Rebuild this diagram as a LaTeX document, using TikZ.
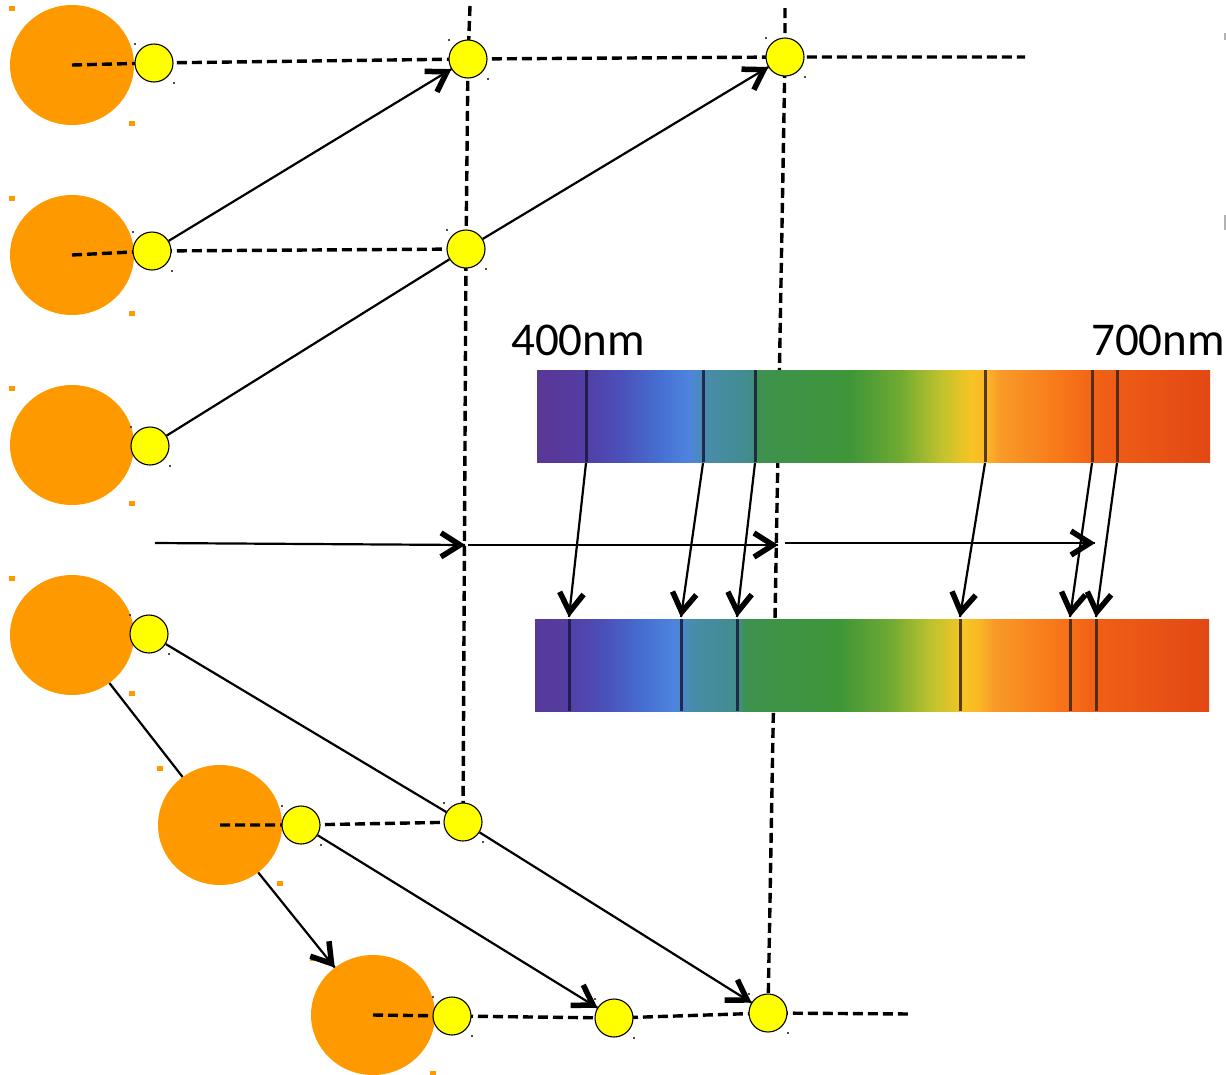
\documentclass[tikz,border=0pt]{standalone}
\usepackage{fontspec}
\setmainfont{Carlito}
\usetikzlibrary{shapes.geometric,decorations.markings}

\definecolor{orng}{RGB}{255,153,0}
\definecolor{ylw}{RGB}{255,255,0}
% spectrum stops, violet to red
\definecolor{sA}{RGB}{90,55,150}
\definecolor{sB}{RGB}{84,60,162}
\definecolor{sC}{RGB}{75,80,185}
\definecolor{sD}{RGB}{70,110,210}
\definecolor{sE}{RGB}{78,132,222}
\definecolor{sF}{RGB}{72,140,172}
\definecolor{sG}{RGB}{66,140,140}
\definecolor{sH}{RGB}{62,146,78}
\definecolor{sI}{RGB}{62,150,56}
\definecolor{sJ}{RGB}{112,170,50}
\definecolor{sK}{RGB}{192,195,45}
\definecolor{sL}{RGB}{246,196,36}
\definecolor{sM}{RGB}{250,184,36}
\definecolor{sN}{RGB}{248,155,40}
\definecolor{sO}{RGB}{248,120,26}
\definecolor{sP}{RGB}{240,95,22}
\definecolor{sQ}{RGB}{226,72,20}
\definecolor{lineblue}{RGB}{25,25,60}
\definecolor{linered}{RGB}{60,35,25}

% stops at 25bp + 50bp * fraction of the bar
\pgfdeclarehorizontalshading{spectrum}{100bp}{%
  color(0bp)=(sA); color(25bp)=(sA); color(28.2bp)=(sB); color(31.2bp)=(sC);
  color(34bp)=(sD); color(36.3bp)=(sE); color(37.5bp)=(sF); color(40.8bp)=(sG);
  color(41.5bp)=(sH); color(48.2bp)=(sI); color(52bp)=(sJ); color(55bp)=(sK);
  color(57.2bp)=(sL); color(58.3bp)=(sM); color(59.4bp)=(sN); color(63.8bp)=(sO);
  color(66.8bp)=(sP); color(75bp)=(sQ); color(100bp)=(sQ)}

\pgfdeclarelayer{bg}
\pgfdeclarelayer{mid}
\pgfsetlayers{bg,mid,main}

\begin{document}
\begin{tikzpicture}[x=1pt,y=-1pt,
  sun/.style={ellipse, fill=orng, minimum width=124pt, minimum height=120pt, inner sep=0pt},
  ball/.style={circle, draw=black, line width=1.1pt, fill=ylw, minimum size=38pt, inner sep=0pt},
  dsh/.style={dash pattern=on 10pt off 5pt, line width=3.4pt},
  link/.style={line width=2.2pt},
  % open V head drawn at the end of the path
  arr/.style={link, postaction={decorate, decoration={markings,
      mark=at position 1 with {\draw[line width=5.5pt, solid, miter limit=5]
        (-24pt,12pt) -- (-5pt,0pt) -- (-24pt,-12pt);}}}},
  specline/.style={line width=3pt, opacity=0.85},
  handle/.style={fill=orng},
  dot/.style={fill=black!70},
  lbl/.style={anchor=base west, inner sep=0pt, font=\fontsize{47}{52}\selectfont}]

\useasboundingbox (0,0) rectangle (1226,1074);

% orange bodies
\begin{pgfonlayer}{bg}
  \node[sun] (o1) at (72,65) {};
  \node[sun] (o2) at (72,255) {};
  \node[sun] (o3) at (72,445) {};
  \node[sun] (o4) at (72,635) {};
  \node[sun] (o5) at (220,825) {};
  \node[sun] (o6) at (373,1015) {};
  \foreach \o in {o1,o2,o3,o4,o5,o6}{
    \fill[handle] (\o.center) ++(-63,-59) rectangle ++(6,5);
    \fill[handle] (\o.center) ++(57,56) rectangle ++(6,5);
  }
\end{pgfonlayer}

% yellow bodies
\node[ball] (y11) at (154,63) {};
\node[ball] (y12) at (468,59) {};
\node[ball] (y13) at (785,57) {};
\node[ball] (y21) at (152,251) {};
\node[ball] (y22) at (466,249) {};
\node[ball] (y31) at (150,446) {};
\node[ball] (y41) at (149,634) {};
\node[ball] (y51) at (301,825) {};
\node[ball] (y52) at (463,822) {};
\node[ball] (y61) at (452,1016) {};
\node[ball] (y62) at (614,1018) {};
\node[ball] (y63) at (768,1013) {};
\foreach \y in {y11,y12,y13,y21,y22,y31,y41,y51,y52,y61,y62,y63}{
  \fill[dot] (\y.center) ++(-20,-20) rectangle ++(1.5,1.5);
  \fill[dot] (\y.center) ++(19,19) rectangle ++(1.5,1.5);
}

% free ends of the dashed guides
\coordinate (r1end) at (1025,57);
\coordinate (r6end) at (912,1014);
\coordinate (v1top) at (470,6);
\coordinate (v2top) at (785,8);

\begin{pgfonlayer}{mid}
  \draw[dsh] (o1.center) -- (y11.center) -- (y12.center) -- (y13.center) -- (r1end);
  \draw[dsh] (o2.center) -- (y21.center) -- (y22.center);
  \draw[dsh] (o5.center) -- (y51.center) -- (y52.center);
  \draw[dsh] (o6.center) -- (y61.center) -- (y62.center) -- (y63.center) -- (r6end);
  \draw[dsh] (v1top) -- (y12.center) -- (y22.center) -- (y52.center);
  \draw[dsh] (v2top) -- (y13.center) -- (y63.center);
\end{pgfonlayer}

% solid connectors
\draw[arr] (y21) -- (y12);
\draw[arr] (y22) -- (y13);
\draw[link] (y31) -- (y22);
\draw[link] (y41) -- (y52);
\draw[arr] (y52) -- (y63);
\draw[arr] (y51) -- (y62);
\draw[link] (o4) -- (o5);
\draw[arr] (o5) -- (o6);

% time axis
\coordinate (h0) at (155,543);
\coordinate (h1) at (465,545);
\coordinate (h1b) at (468,545);
\coordinate (h2) at (778,545);
\coordinate (h2b) at (785,543);
\coordinate (h3) at (1095,543);
\draw[arr] (h0) -- (h1);
\draw[arr] (h1b) -- (h2);
\draw[arr] (h2b) -- (h3);

% spectra
\shade[shading=spectrum] (537,370) rectangle (1210,462);
\begin{scope}
  \clip (535,619) rectangle (1209,711);
  \shade[shading=spectrum] (518,619) rectangle (1209,711);
\end{scope}
\foreach \x/\c in {586/lineblue,703/lineblue,755/lineblue,985/linered,1092/linered,1117/linered}
  \draw[specline,\c] (\x,370) -- (\x,462);
\foreach \x/\c in {569/lineblue,681/lineblue,737/lineblue,960/linered,1070/linered,1096/linered}
  \draw[specline,\c] (\x,619) -- (\x,711);

\node[lbl] (l400) at (511,355) {400nm};
\node[lbl] (l700) at (1091,355) {700nm};

% shifts of the lines
\foreach \i/\xt/\xb in {1/586/569,2/703/681,3/755/737,4/985/960,5/1092/1070,6/1117/1096}{
  \coordinate (t\i) at (\xt,463);
  \coordinate (b\i) at (\xb,617);
  \draw[arr] (t\i) -- (b\i);
}

% edges of shapes beyond the right border
\draw[black!30, line width=1.5pt] (1225,33) -- (1225,40);
\draw[black!30, line width=1.5pt] (1225,215) -- (1225,230);
\end{tikzpicture}
\end{document}
